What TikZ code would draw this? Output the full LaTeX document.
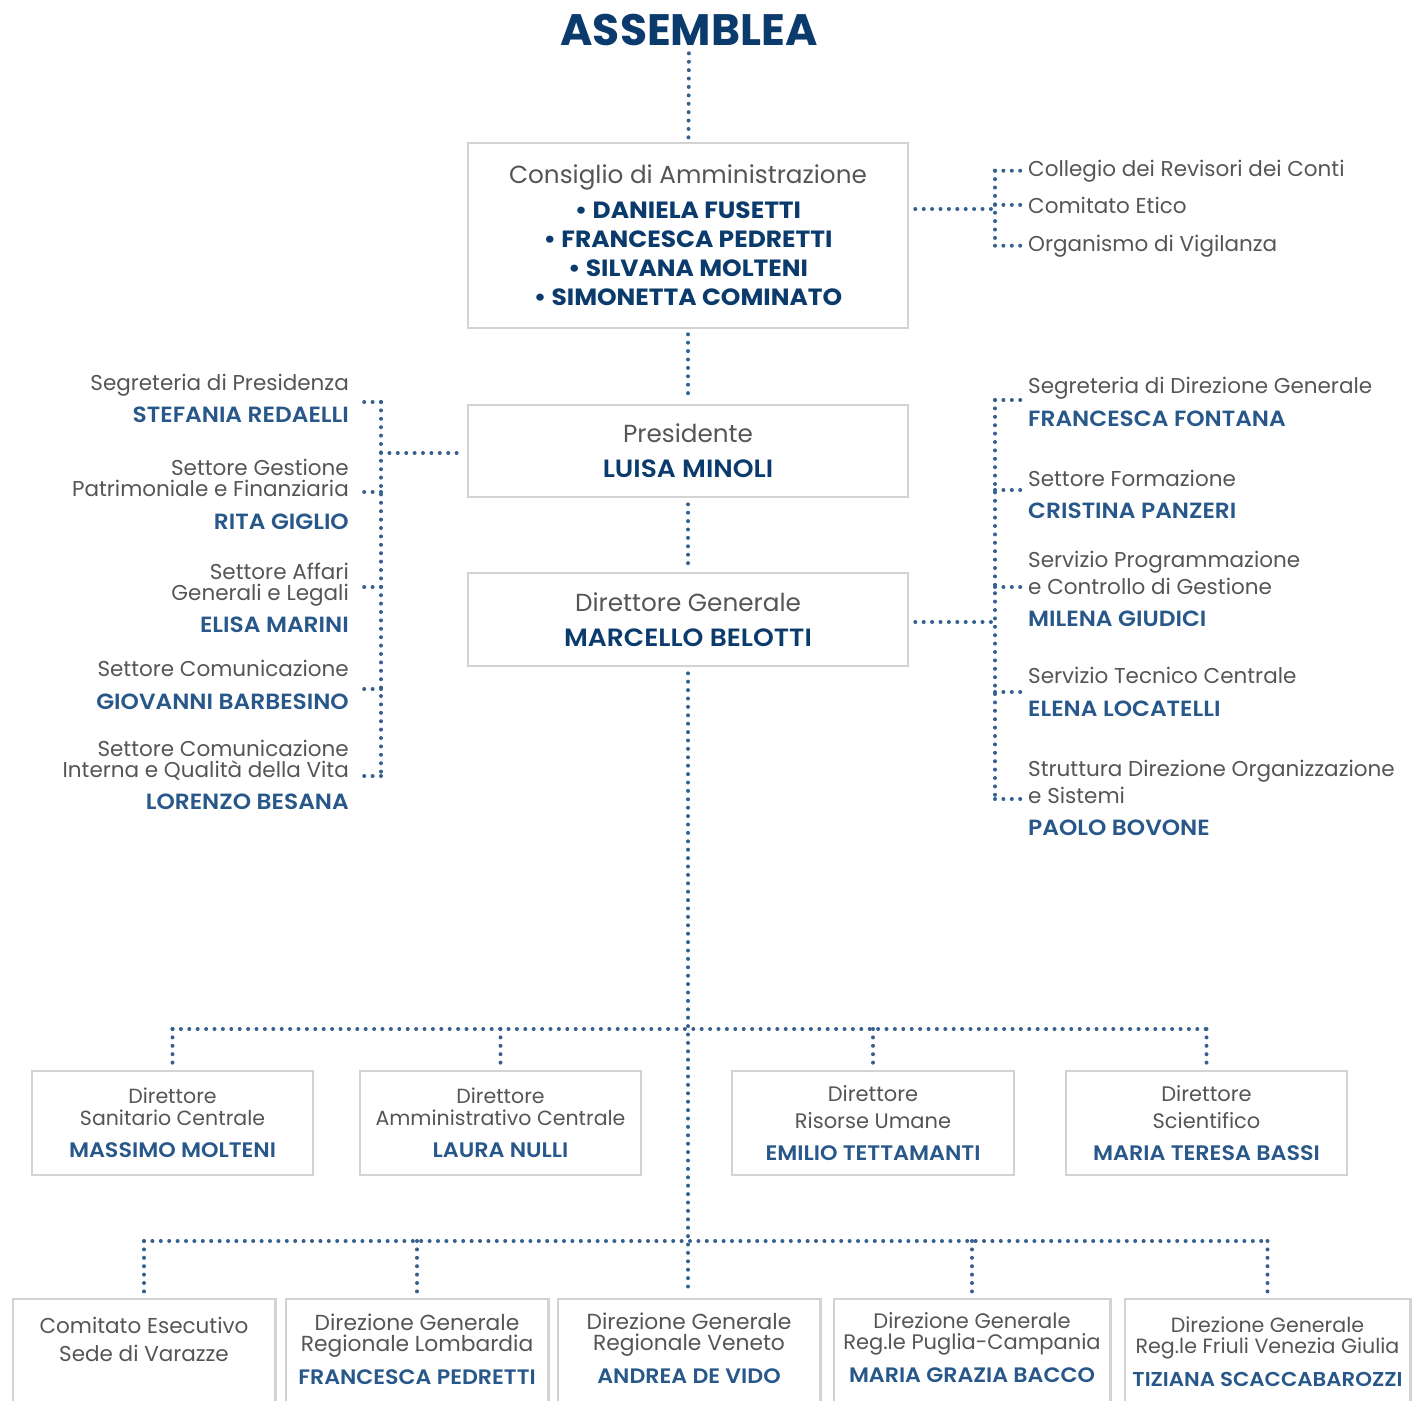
\documentclass[tikz,border=0pt]{standalone}
\usepackage{fontspec}
\setmainfont{Poppins}
\newfontfamily\namefont{Poppins SemiBold}[FakeStretch=1.06]
\newfontfamily\cdafont{Poppins}[FakeStretch=1.06]
\usetikzlibrary{positioning}

\definecolor{navy}{HTML}{0B3B6C}
\definecolor{nameblue}{HTML}{28578A}
\definecolor{textgray}{HTML}{555555}
\definecolor{framegray}{HTML}{D3D3D3}
\definecolor{dotblue}{HTML}{36618F}

\begin{document}
\begin{tikzpicture}[x=1pt, y=-1pt,
    dotline/.style={draw=dotblue, line width=4pt, line cap=round, dash pattern=on 0pt off 8.4pt},
    unitbox/.style={rectangle, draw=framegray, line width=2.6pt, align=center, text=textgray, inner sep=0pt},
    openbox/.style={rectangle, align=center, text=textgray, inner sep=0pt},
    openframe/.style={draw=framegray, line width=2.6pt},
    sidetext/.style={inner sep=0pt, text=textgray, font=\fontsize{21.5}{21}\selectfont},
    sidename/.style={inner sep=0pt, text=nameblue, font=\namefont\fontsize{22}{21}\selectfont}]

    \useasboundingbox (0,0) rectangle (1413,1400);

    % Define nodes
    \node (assemblea) [text=navy, font=\bfseries\fontsize{44}{44}\selectfont] at (689,30) {ASSEMBLEA};

    \node (cda) [unitbox, minimum width=440, minimum height=185, font=\fontsize{24.7}{29}\selectfont] at (688,235.5)
        {Consiglio di Amministrazione\\[6pt]
         {\cdafont\bfseries\color{navy}\fontsize{23.5}{29}\selectfont • DANIELA FUSETTI}\\
         {\cdafont\bfseries\color{navy}\fontsize{23.5}{29}\selectfont • FRANCESCA PEDRETTI}\\
         {\cdafont\bfseries\color{navy}\fontsize{23.5}{29}\selectfont • SILVANA MOLTENI}\\
         {\cdafont\bfseries\color{navy}\fontsize{23.5}{29}\selectfont • SIMONETTA COMINATO}};
    \node (pres) [unitbox, minimum width=440, minimum height=92, font=\fontsize{24.7}{29}\selectfont] at (688,451)
        {Presidente\\[6pt]{\namefont\color{navy}\fontsize{25}{29}\selectfont LUISA MINOLI}};
    \node (dg) [unitbox, minimum width=440, minimum height=93, font=\fontsize{24.7}{29}\selectfont] at (688,619.5)
        {Direttore Generale\\[6pt]{\namefont\color{navy}\fontsize{25}{29}\selectfont MARCELLO BELOTTI}};

    % Committees
    \node (collegio) [sidetext, anchor=base west] at (1028,176) {Collegio dei Revisori dei Conti};
    \node (etico) [sidetext, anchor=base west] at (1028,213) {Comitato Etico};
    \node (organismo) [sidetext, anchor=base west] at (1028,251) {Organismo di Vigilanza};

    % Staff of the president
    \node (segpres) [sidetext, anchor=base east, align=right] at (349,390) {Segreteria di Presidenza};
    \node (redaelli) [sidename, anchor=base east] at (349,422) {STEFANIA REDAELLI};
    \node (gestione) [sidetext, anchor=base east, align=right] at (349,496) {Settore Gestione\\Patrimoniale e Finanziaria};
    \node (giglio) [sidename, anchor=base east] at (349,529) {RITA GIGLIO};
    \node (affari) [sidetext, anchor=base east, align=right] at (349,600) {Settore Affari\\Generali e Legali};
    \node (marini) [sidename, anchor=base east] at (349,632) {ELISA MARINI};
    \node (comunic) [sidetext, anchor=base east, align=right] at (349,676) {Settore Comunicazione};
    \node (barbesino) [sidename, anchor=base east] at (349,709) {GIOVANNI BARBESINO};
    \node (interna) [sidetext, anchor=base east, align=right] at (349,777) {Settore Comunicazione\\Interna e Qualità della Vita};
    \node (besana) [sidename, anchor=base east] at (349,809) {LORENZO BESANA};

    % Staff of the general director
    \node (segdir) [sidetext, anchor=base west, align=left] at (1028,393) {Segreteria di Direzione Generale};
    \node (fontana) [sidename, anchor=base west] at (1028,426) {FRANCESCA FONTANA};
    \node (formaz) [sidetext, anchor=base west, align=left] at (1028,486) {Settore Formazione};
    \node (panzeri) [sidename, anchor=base west] at (1028,518) {CRISTINA PANZERI};
    \node (program) [sidetext, anchor=base west, align=left] at (1028,594) {Servizio Programmazione\\[3pt]e Controllo di Gestione};
    \node (giudici) [sidename, anchor=base west] at (1028,626) {MILENA GIUDICI};
    \node (tecnico) [sidetext, anchor=base west, align=left] at (1028,683) {Servizio Tecnico Centrale};
    \node (locatelli) [sidename, anchor=base west] at (1028,716) {ELENA LOCATELLI};
    \node (struttura) [sidetext, anchor=base west, align=left] at (1028,803) {Struttura Direzione Organizzazione\\[3pt]e Sistemi};
    \node (bovone) [sidename, anchor=base west] at (1028,835) {PAOLO BOVONE};

    % Central directors
    \node (dsan) [unitbox, minimum width=281, minimum height=104, font=\fontsize{20.5}{22}\selectfont] at (172.5,1123)
        {Direttore\\Sanitario Centrale\\[10pt]{\namefont\color{nameblue}\fontsize{21}{22}\selectfont MASSIMO MOLTENI}};
    \node (damm) [unitbox, minimum width=281, minimum height=104, font=\fontsize{20.5}{22}\selectfont] at (500.5,1123)
        {Direttore\\Amministrativo Centrale\\[10pt]{\namefont\color{nameblue}\fontsize{21}{22}\selectfont LAURA NULLI}};
    \node (drisorse) [unitbox, minimum width=282, minimum height=104, font=\fontsize{21}{27}\selectfont] at (873,1123)
        {Direttore\\Risorse Umane\\[5pt]{\namefont\color{nameblue}EMILIO TETTAMANTI}};
    \node (dscien) [unitbox, minimum width=281, minimum height=104, font=\fontsize{21}{27}\selectfont] at (1206.5,1123)
        {Direttore\\Scientifico\\[5pt]{\namefont\color{nameblue}MARIA TERESA BASSI}};

    % Regional directions
    \node (comesec) [openbox, minimum width=262, minimum height=80, font=\fontsize{21.5}{28}\selectfont] at (144,1339)
        {Comitato Esecutivo\\Sede di Varazze};
    \node (lomb) [openbox, minimum width=262, minimum height=100, font=\fontsize{21.8}{21}\selectfont] at (417,1349)
        {Direzione Generale\\Regionale Lombardia\\[12pt]{\namefont\color{nameblue}\fontsize{20.9}{21}\selectfont FRANCESCA PEDRETTI}};
    \node (veneto) [openbox, minimum width=262, minimum height=98, font=\fontsize{21.8}{21}\selectfont] at (689,1348)
        {Direzione Generale\\Regionale Veneto\\[12pt]{\namefont\color{nameblue}\fontsize{20.9}{21}\selectfont ANDREA DE VIDO}};
    \node (puglia) [openbox, minimum width=276, minimum height=98, font=\fontsize{21}{21}\selectfont] at (972,1348)
        {Direzione Generale\\Reg.le Puglia-Campania\\[12pt]{\namefont\color{nameblue}\fontsize{20.9}{21}\selectfont MARIA GRAZIA BACCO}};
    \node (friuli) [openbox, minimum width=285, minimum height=106, font=\fontsize{20.6}{21}\selectfont] at (1267.5,1352)
        {Direzione Generale\\Reg.le Friuli Venezia Giulia\\[12pt]{\namefont\color{nameblue}\fontsize{20.1}{21}\selectfont TIZIANA SCACCABAROZZI}};

    % Frames open at the bottom edge
    \coordinate (pagebottom) at (0,1405);
    \foreach \n in {comesec, lomb, veneto, puglia, friuli}
        \draw[openframe] (\n.north west |- pagebottom) -- (\n.north west) -- (\n.north east) -- (\n.north east |- pagebottom);

    % Draw connectors
    \draw[dotline, shorten <=4pt, shorten >=3pt] (assemblea) -- (cda);
    \draw[dotline, shorten <=5pt, shorten >=5pt] (cda) -- (pres);
    \draw[dotline, shorten <=6pt, shorten >=5pt] (pres) -- (dg);
    \draw[dotline, shorten <=6pt, shorten >=6pt] (dg.south) -- (dg.south |- veneto.north);

    \coordinate (cdabus) at (995,209);
    \draw[dotline] ([xshift=6pt]cda.east |- cdabus) -- (cdabus);
    \draw[dotline] (cdabus |- collegio.west) -- (cdabus |- organismo.west);
    \foreach \n in {collegio, etico, organismo}
        \draw[dotline, shorten >=6pt] (cdabus |- \n.west) -- (\n.west);

    \coordinate (presbus) at (381,453);
    \coordinate (lt1) at (381,402);
    \coordinate (lt2) at (381,492);
    \coordinate (lt3) at (381,587);
    \coordinate (lt4) at (381,689);
    \coordinate (lt5) at (381,776);
    \draw[dotline] (presbus) -- ([xshift=-4pt]pres.west |- presbus);
    \draw[dotline] (lt1) -- (lt5);
    \draw[dotline] (lt1) -- ([xshift=7pt]segpres.east |- lt1);
    \draw[dotline] (lt2) -- ([xshift=7pt]gestione.east |- lt2);
    \draw[dotline] (lt3) -- ([xshift=7pt]affari.east |- lt3);
    \draw[dotline] (lt4) -- ([xshift=7pt]comunic.east |- lt4);
    \draw[dotline] (lt5) -- ([xshift=7pt]interna.east |- lt5);

    \coordinate (dgbus) at (995,622);
    \coordinate (rt1) at (995,400);
    \coordinate (rt2) at (995,490);
    \coordinate (rt3) at (995,587);
    \coordinate (rt4) at (995,692);
    \coordinate (rt5) at (995,799);
    \draw[dotline] ([xshift=6pt]dg.east |- dgbus) -- (dgbus);
    \draw[dotline] (rt1) -- (rt5);
    \draw[dotline] (rt1) -- ([xshift=-6pt]segdir.west |- rt1);
    \draw[dotline] (rt2) -- ([xshift=-6pt]formaz.west |- rt2);
    \draw[dotline] (rt3) -- ([xshift=-6pt]program.west |- rt3);
    \draw[dotline] (rt4) -- ([xshift=-6pt]tecnico.west |- rt4);
    \draw[dotline] (rt5) -- ([xshift=-6pt]struttura.west |- rt5);

    \coordinate (bus1) at (688,1029);
    \draw[dotline] (dsan.north |- bus1) -- (dscien.north |- bus1);
    \foreach \n in {dsan, damm, drisorse, dscien}
        \draw[dotline, shorten >=4pt] (\n.north |- bus1) -- (\n.north);

    \coordinate (bus2) at (688,1241);
    \draw[dotline] (comesec.north |- bus2) -- (friuli.north |- bus2);
    \foreach \n in {comesec, lomb, puglia, friuli}
        \draw[dotline, shorten >=6pt] (\n.north |- bus2) -- (\n.north);
\end{tikzpicture}
\end{document}
